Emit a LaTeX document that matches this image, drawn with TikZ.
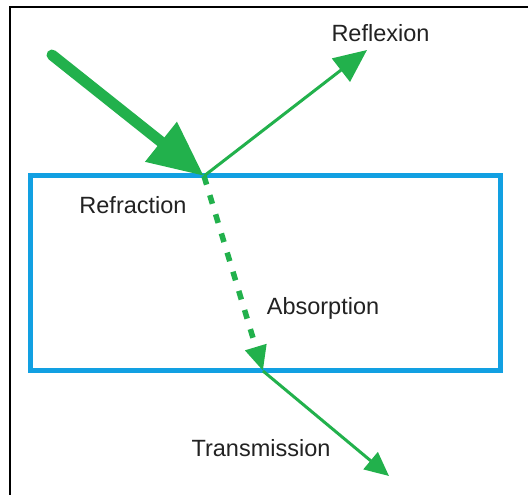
\documentclass[tikz,border=0pt]{standalone}
\usepackage{fontspec}
\setmainfont{Liberation Sans}
\usetikzlibrary{arrows.meta}
\definecolor{raygreen}{HTML}{22B14C}
\definecolor{boxblue}{HTML}{12A0E2}
\definecolor{txt}{HTML}{222222}
\tikzset{
  lbl/.style={anchor=base, text=txt, inner sep=0pt, font=\fontsize{23.5}{28}\selectfont},
  incident/.style={raygreen, line width=11pt, line cap=round, -{Triangle[length=55pt, width=48pt]}},
  dashray/.style={raygreen, line width=5.5pt, dash pattern=on 9pt off 11pt, -{Triangle[length=25pt, width=21pt]}},
  medium/.style={boxblue, line width=5pt},
  frame/.style={black, line width=2pt}
}
\begin{document}
\begin{tikzpicture}[x=1pt, y=-1pt]
\useasboundingbox (0,0) rectangle (528,495);
\fill[white] (0,0) rectangle (528,495);
\draw[frame] (9.5,495) -- (9.5,7.5) -- (528,7.5);
\draw[medium] (30.5,175.5) rectangle (500,370.5);
\coordinate (src) at (52,55);
\coordinate (O) at (204,176);
\coordinate (refl) at (367,50);
\coordinate (P) at (263,371);
\coordinate (trans) at (389,476);
\draw[incident] (src) -- (O);
\draw[raygreen, line width=3pt, -{Triangle[length=33pt, width=29pt]}] (O) -- (refl);
\draw[dashray] (O) -- (P);
\draw[raygreen, line width=3pt, -{Triangle[length=24pt, width=22pt]}] (P) -- (trans);
\node[lbl] (reflexion) at (380.5,42) {Reflexion};
\node[lbl] (refraction) at (133,213) {Refraction};
\node[lbl] (absorption) at (323,314.3) {Absorption};
\node[lbl] (transmission) at (261,456.7) {Transmission};
\end{tikzpicture}
\end{document}
